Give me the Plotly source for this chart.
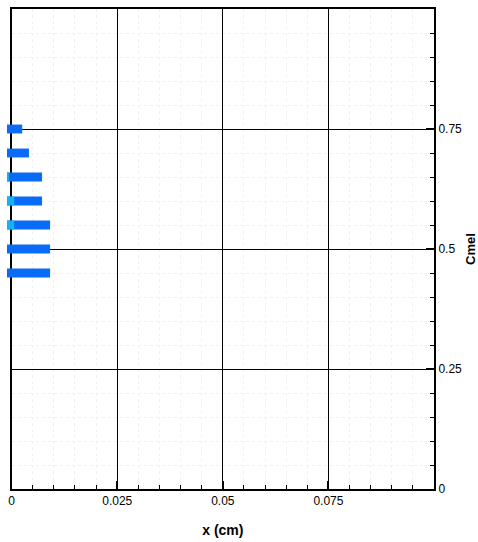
import plotly.graph_objects as go

# Data
cmel_levels = [0.75, 0.70, 0.65, 0.60, 0.55, 0.50, 0.45]
x_end = [0.0025, 0.0041, 0.0072, 0.0072, 0.0091, 0.0091, 0.0091]
cyan_end = [None, None, -0.0007, 0.0006, 0.0006, None, None]
x_ticks = [0, 0.025, 0.05, 0.075]
x_tick_labels = ["0", "0.025", "0.05", "0.075"]
y_ticks = [0, 0.25, 0.5, 0.75]
y_tick_labels = ["0", "0.25", "0.5", "0.75"]

X_MAX = 0.1
Y_MAX = 1.0
cap = -0.0011  # visual start of the thick strokes (stroke cap poking left of x=0)

blue = "#0a6cf6"
cyan = "#12b2f4"

# overlay subplot, same scale, extended slightly to the left so strokes can poke out
dx = (-cap) / (X_MAX - cap)

fig = go.Figure()
# empty trace so the main (framed) axes are drawn
fig.add_trace(go.Scatter(x=[], y=[], mode="markers", showlegend=False, hoverinfo="skip"))
fig.add_trace(go.Bar(
    orientation="h",
    y=cmel_levels,
    x=[e - cap for e in x_end],
    base=cap,
    width=0.0185,
    marker=dict(color=blue, line=dict(width=0)),
    xaxis="x2", yaxis="y2",
    showlegend=False,
))
cy_y = [l for l, c in zip(cmel_levels, cyan_end) if c is not None]
cy_x = [c - cap for c in cyan_end if c is not None]
fig.add_trace(go.Bar(
    orientation="h",
    y=cy_y,
    x=cy_x,
    base=cap,
    width=0.0185,
    marker=dict(color=cyan, line=dict(width=0)),
    xaxis="x2", yaxis="y2",
    showlegend=False,
))

font = dict(family="Liberation Sans, Arial, sans-serif", size=12, color="black")

fig.update_layout(
    width=478, height=542,
    margin=dict(l=7, r=44, t=9, b=53),
    paper_bgcolor="white", plot_bgcolor="rgba(0,0,0,0)",
    barmode="overlay",
    font=font,
    xaxis=dict(
        domain=[dx, 1],
        range=[0, X_MAX],
        tickvals=x_ticks, ticktext=x_tick_labels,
        showgrid=True, gridcolor="black", gridwidth=1,
        zeroline=False,
        showline=True, linecolor="black", linewidth=2, mirror=True,
        ticks="inside", ticklen=8, tickwidth=2, tickcolor="black",
        minor=dict(dtick=0.005, tick0=0, ticks="inside", ticklen=4, tickwidth=1,
                   tickcolor="black", showgrid=True, gridcolor="#f0f0f0",
                   griddash="dot", gridwidth=1),
        title=dict(text="<b>x (cm)</b>", font=dict(size=14), standoff=18),
        automargin=False,
        fixedrange=True,
    ),
    yaxis=dict(
        range=[0, Y_MAX],
        side="right",
        tickvals=y_ticks, ticktext=y_tick_labels,
        showgrid=True, gridcolor="black", gridwidth=1,
        zeroline=False,
        showline=True, linecolor="black", linewidth=2, mirror=True,
        ticks="inside", ticklen=8, tickwidth=2, tickcolor="black",
        minor=dict(dtick=0.05, tick0=0, ticks="inside", ticklen=4, tickwidth=1,
                   tickcolor="black", showgrid=True, gridcolor="#f0f0f0",
                   griddash="dot", gridwidth=1),
        title=dict(text="<b>Cmel</b>", font=dict(size=13), standoff=7),
        automargin=False,
        fixedrange=True,
    ),
    xaxis2=dict(
        domain=[0, 1], range=[cap, X_MAX], anchor="y2",
        visible=False, fixedrange=True,
    ),
    yaxis2=dict(
        domain=[0, 1], range=[0, Y_MAX], anchor="x2",
        visible=False, fixedrange=True,
    ),
)

fig.write_html("out.html", config={"displayModeBar": False},
               post_script="document.body.style.margin='0px';")
